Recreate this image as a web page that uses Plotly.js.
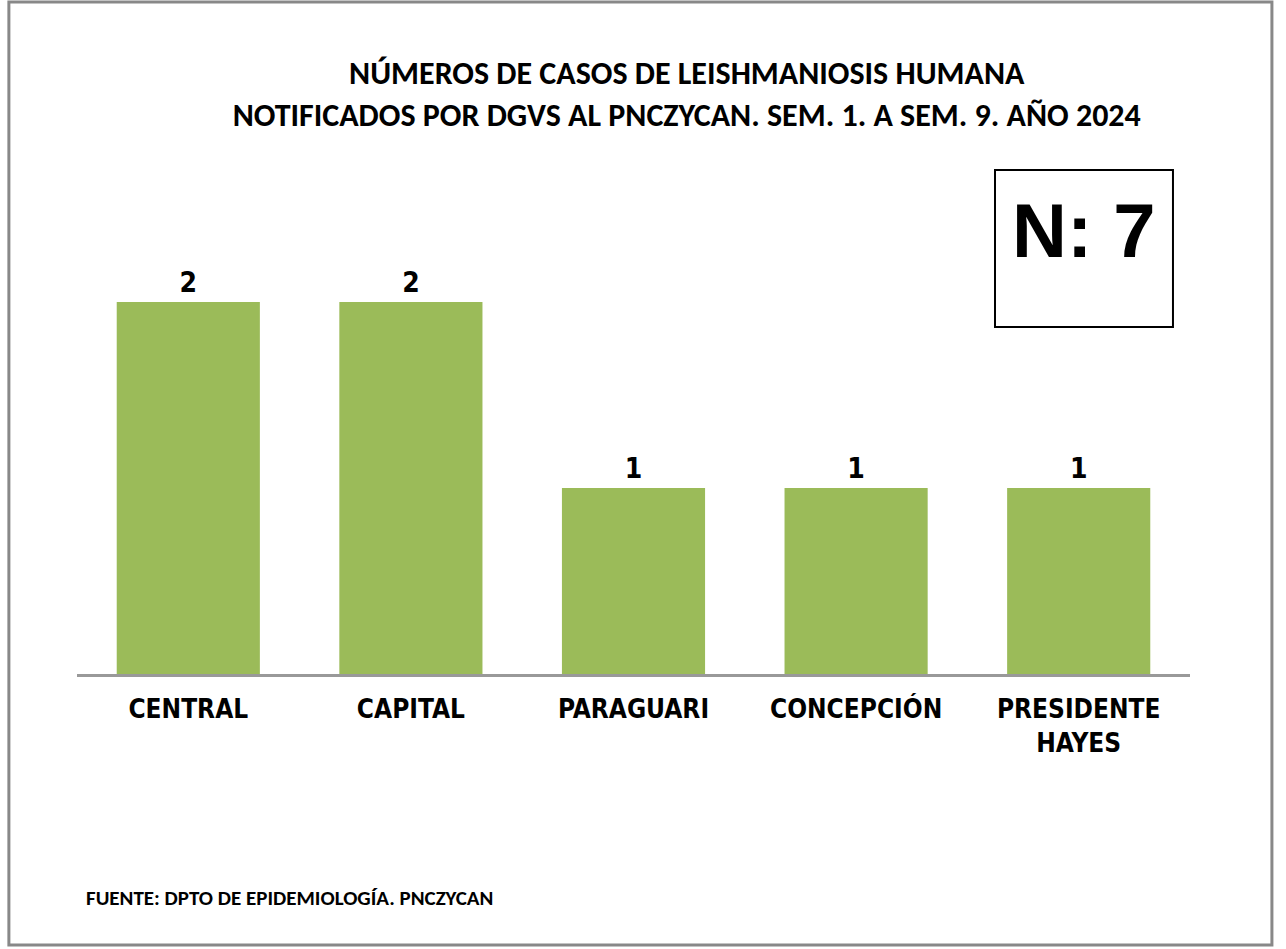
<!DOCTYPE html>
<html>
<head>
<meta charset="utf-8">
<script src="https://cdn.plot.ly/plotly-3.0.1.min.js"></script>
<style>
  html, body { margin: 0; padding: 0; background: #fff; }
  #plot { width: 1286px; height: 949px; }
</style>
</head>
<body>
<div id="plot"></div>
<script>
var departamentos = ["CENTRAL", "CAPITAL", "PARAGUARI", "CONCEPCIÓN", "PRESIDENTE<br>HAYES"];
var casos = [2, 2, 1, 1, 1];
var total = "N: 7";

var narrow = "'Liberation Sans Narrow', 'Arial Narrow', 'DejaVu Sans Condensed', sans-serif";
var calib = "Carlito, Calibri, 'Open Sans', sans-serif";

var trace = {
  x: departamentos,
  y: casos,
  type: "bar",
  marker: { color: "#9bbb59" },
  text: casos.map(String),
  textposition: "outside",
  textfont: { family: narrow, size: 28, color: "#000", weight: "bold" },
  cliponaxis: false,
  hoverinfo: "none"
};

var layout = {
  width: 1286,
  height: 949,
  margin: { l: 77, r: 96, t: 209, b: 275 },
  paper_bgcolor: "#fff",
  plot_bgcolor: "#fff",
  showlegend: false,
  bargap: 0.357,
  title: {
    text: "<b>NÚMEROS DE CASOS DE LEISHMANIOSIS HUMANA</b><br><b>NOTIFICADOS POR DGVS AL PNCZYCAN. SEM. 1. A SEM. 9. AÑO 2024</b>",
    font: { family: calib, size: 32, color: "#000" },
    x: 0.534,
    xanchor: "center",
    y: 0.911,
    yanchor: "middle"
  },
  xaxis: {
    showline: true,
    linecolor: "#999",
    linewidth: 3,
    ticks: "",
    ticklabelstandoff: 10,
    tickfont: { family: narrow, size: 26, color: "#000", weight: "bold" },
    fixedrange: true
  },
  yaxis: {
    range: [0, 2.5],
    visible: false,
    showgrid: false,
    zeroline: false,
    fixedrange: true
  },
  shapes: [
    {
      type: "rect", xref: "paper", yref: "paper",
      x0: -0.0612, x1: 1.0736, y0: 1.4452, y1: -0.5828,
      line: { color: "#888", width: 3 }
    },
    {
      type: "rect", xref: "paper", yref: "paper",
      x0: 0.8248, x1: 0.9847, y0: 0.7462, y1: 1.0839,
      line: { color: "#000", width: 2 }
    }
  ],
  annotations: [
    {
      text: "<b>" + total + "</b>",
      xref: "paper", yref: "paper",
      x: 0.9047, y: 0.9527,
      xanchor: "center", yanchor: "middle",
      showarrow: false,
      font: { family: "'Liberation Sans', Arial, sans-serif", size: 76, color: "#000" }
    },
    {
      text: "<b>FUENTE: DPTO DE EPIDEMIOLOGÍA. PNCZYCAN</b>",
      xref: "paper", yref: "paper",
      x: 0.006, y: -0.4817,
      xanchor: "left", yanchor: "middle",
      showarrow: false,
      font: { family: calib, size: 21, color: "#000" }
    }
  ]
};

Plotly.newPlot("plot", [trace], layout, { displayModeBar: false, staticPlot: true });
</script>
</body>
</html>
